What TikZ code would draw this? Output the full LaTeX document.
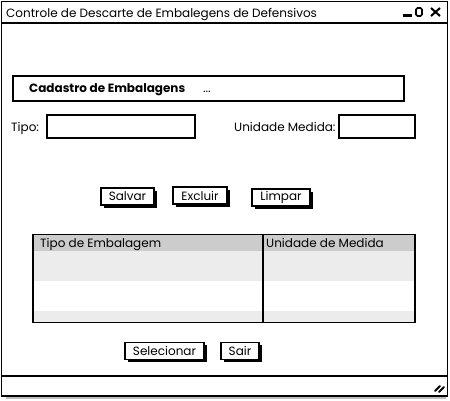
\documentclass[tikz,border=0pt]{standalone}
\usepackage{fontspec}
\setmainfont{Poppins}
\usetikzlibrary{shadows}

\tikzset{
  frame/.style={draw=black, line width=1.5pt},
  field/.style={draw=black, line width=1.5pt, fill=white, inner sep=0pt},
  button/.style={draw=black, line width=1.3pt, fill=white, inner sep=0pt,
    minimum height=17pt, font=\fontsize{12}{14}\selectfont,
    drop shadow={shadow xshift=2.5pt, shadow yshift=-2.5pt, opacity=1, fill=black}},
  lbl/.style={font=\fontsize{12}{14}\selectfont, inner sep=0pt, anchor=base west}
}

\begin{document}
\begin{tikzpicture}[x=1pt, y=-1pt]

  \useasboundingbox (0,0) rectangle (450,400);

  % window
  \fill[gray!50] (6,396.5) rectangle (446,399);
  \draw[frame, fill=white] (1.5,1.5) rectangle (447.5,396) ;
  \draw[frame] (1.5,23) -- (447.5,23) ;
  \draw[frame] (1.5,376) -- (447.5,376) ;
  \node[lbl] (title) at (6,17) {Controle de Descarte de Embalegens de Defensivos};
  \fill (403,14) rectangle (412,16.5) ;
  \draw[line width=1.6pt, rounded corners=1.5pt] (416,8) rectangle (422,16) ;
  \draw[line width=2pt] (431,8) -- (440,16) (431,16) -- (440,8) ;
  \draw[line width=2pt, line cap=round] (435,391) -- (440,386) (439,392) -- (444,387) ;

  % header
  \node[field, minimum width=391pt, minimum height=25pt] (header) at (208.5,88.5) {};
  \node[lbl, font=\fontsize{12}{14}\selectfont\bfseries] (cadastro) at (29,92) {Cadastro de Embalagens};
  \node[lbl] (dots) at (203,92) {...};

  % fields
  \node[lbl] (tipolbl) at (11,131) {Tipo:};
  \node[field, minimum width=148pt, minimum height=23pt] (tipo) at (121,126.5) {};
  \node[lbl] (unidlbl) at (234,131) {Unidade Medida:};
  \node[field, minimum width=76pt, minimum height=23pt] (unid) at (377,126.5) {};

  % buttons
  \node[button, minimum width=53pt] (salvar) at (127.5,196.5) {Salvar};
  \node[button, minimum width=54pt] (excluir) at (200,195.5) {Excluir};
  \node[button, minimum width=58pt] (limpar) at (281,197.5) {Limpar};

  % table
  \fill[gray!40] (33,235) rectangle (415,251) ;
  \fill[gray!15] (33,251) rectangle (415,281) ;
  \fill[gray!15] (33,311) rectangle (415,322) ;
  \node[draw=black, line width=1.5pt, inner sep=0pt, minimum width=382pt, minimum height=88pt] (grid) at (224,278.5) {};
  \draw[line width=1.5pt] (263,235) -- (263,322) ;
  \node[lbl] (col1) at (40,247.5) {Tipo de Embalagem};
  \node[lbl] (col2) at (266,247.5) {Unidade de Medida};

  % bottom buttons
  \node[button, minimum width=79pt] (selecionar) at (164.5,351) {Selecionar};
  \node[button, minimum width=38pt] (sair) at (240,351) {Sair};

\end{tikzpicture}
\end{document}
